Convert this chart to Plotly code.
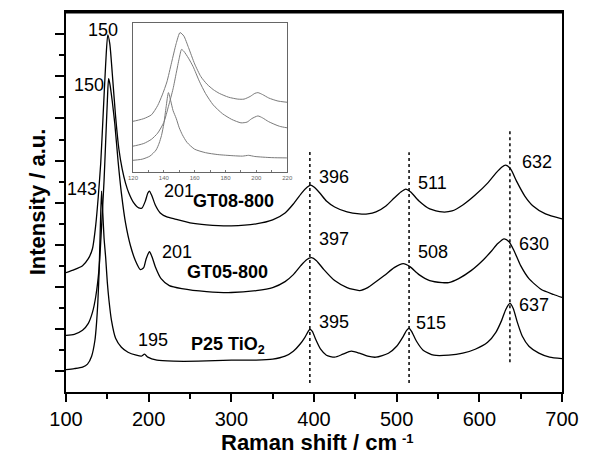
import plotly.graph_objects as go

# Raman spectra (intensity in arbitrary units, stacked with offsets)
p25_x = [100, 110, 120, 126, 131, 135, 137, 138.5, 140, 141.5, 143, 144.5, 146, 148, 150, 152, 155, 160,
         167, 175, 185, 191, 195, 199, 210, 230, 260, 300, 330, 350, 365, 375, 383, 389, 393, 395, 398,
         402, 408, 415, 425, 435, 445, 455, 465, 475, 490, 500, 508, 512, 515, 518, 524, 532, 545, 563,
         580, 595, 610, 620, 627, 632, 637, 641, 646, 652, 660, 672, 685, 700]
p25_y = [22.5, 23.5, 25, 28, 36, 52, 70, 90, 120, 165, 202, 180, 155, 135, 110, 92, 72, 54,
         45, 40, 37, 36, 38, 35, 32, 31, 31, 32, 32, 33, 36, 41, 48, 55, 61, 63, 61,
         53, 43, 37, 35, 38, 41, 39, 36, 35, 39, 46, 56, 62, 64, 61, 51, 42, 37, 37,
         39, 43, 50, 60, 72, 83, 89, 84, 70, 56, 46, 39, 35, 33.5]

gt05_x = [100, 110, 120, 127, 132, 136, 140, 143, 146, 148, 150, 151.5, 153, 156, 159, 163, 167, 172,
          178, 184, 190, 194, 197, 201, 204, 208, 215, 225, 240, 270, 300, 330, 350, 365, 375, 384,
          391, 397, 403, 412, 425, 440, 455, 465, 472, 485, 497, 508, 516, 527, 540, 555, 563, 575,
          590, 605, 615, 622, 630, 636, 642, 650, 660, 675, 690, 700]
gt05_y = [57, 58, 62, 69, 80, 96, 124, 166, 212, 252, 292, 315, 310, 292, 270, 232, 200, 170,
          147, 132, 123, 125, 134, 141, 136, 126, 114, 107, 104, 101, 100, 102, 105, 111, 118, 127,
          133, 135, 132, 123, 112, 105, 102, 105, 109, 117, 125, 129, 126, 118, 112, 110, 110, 114,
          122, 133, 142, 149, 154, 151, 142, 127, 114, 103, 98, 95]

gt08_x = [100, 110, 120, 127, 132, 136, 139, 142, 145, 148, 150.5, 153, 156, 160, 164, 168, 172, 176,
          182, 188, 192, 196, 199, 201, 204, 208, 214, 222, 231, 250, 270, 300, 330, 350, 365, 375,
          385, 392, 396, 400, 407, 415, 425, 440, 455, 465, 475, 487, 497, 505, 511, 517, 527, 540,
          555, 567, 580, 595, 610, 620, 627, 632, 638, 645, 655, 665, 680, 700]
gt08_y = [120, 123, 127, 134, 144, 168, 196, 230, 280, 330, 359, 350, 320, 277, 244, 224, 210, 200,
          190, 185, 185, 192, 200, 202, 197, 188, 180, 176, 174, 170, 168, 167, 169, 173, 180, 189,
          200, 206, 208, 206, 200, 192, 186, 181, 179, 179, 181, 187, 195, 201, 204, 201, 192, 184,
          181, 182, 188, 198, 210, 220, 226, 228, 224, 212, 197, 187, 179, 174]

# Reference lines at the P25 band positions
ref_x = [395, 515, 637]
ref_top = [242, 241, 262]
ref_bottom = [9, 9, 30]

# Band labels: (x, y, text)
peak_labels = [
    (144.2, 363.7, "150"), (127.6, 308.7, "150"), (119.3, 203.7, "143"),
    (237.2, 202, "201"), (234.0, 140.3, "201"), (205.5, 52, "195"),
    (423.7, 216, "396"), (423.7, 154, "397"), (423.7, 70, "395"),
    (543.5, 210.3, "511"), (543.5, 140.3, "508"), (541.5, 69.3, "515"),
    (670.0, 231, "632"), (666.0, 148.7, "630"), (666.0, 87, "637"),
]
sample_labels = [
    (302.4, 192, "GT08-800"), (295.7, 120.3, "GT05-800"), (295.7, 47, "P25 TiO<sub>2</sub>"),
]

FONT = "Liberation Sans, Arial, sans-serif"
fig = go.Figure()

for xs, ys in [(gt08_x, gt08_y), (gt05_x, gt05_y), (p25_x, p25_y)]:
    fig.add_trace(go.Scatter(x=xs, y=ys, mode="lines",
                             line=dict(color="black", width=1.3, shape="spline", smoothing=0.6),
                             xaxis="x", yaxis="y", hoverinfo="skip"))
    fig.add_trace(go.Scatter(x=xs, y=ys, mode="lines",
                             line=dict(color="#7a7a7a", width=1, shape="spline", smoothing=0.6),
                             xaxis="x2", yaxis="y2", hoverinfo="skip"))

for xv, yt, yb in zip(ref_x, ref_top, ref_bottom):
    fig.add_trace(go.Scatter(x=[xv, xv], y=[yb, yt], mode="lines",
                             line=dict(color="black", width=1.5, dash="dot"),
                             xaxis="x", yaxis="y", hoverinfo="skip"))

annotations = []
for x, y, t in peak_labels:
    annotations.append(dict(x=x, y=y, xref="x", yref="y", text=t, showarrow=False,
                            font=dict(family=FONT, size=18, color="black")))
for x, y, t in sample_labels:
    annotations.append(dict(x=x, y=y, xref="x", yref="y", text="<b>" + t + "</b>", showarrow=False,
                            font=dict(family=FONT, size=18, color="black")))
# x-axis title with its superscript unit exponent
annotations.append(dict(x=0.490, y=-0.172, xref="paper", yref="paper",
                        text="<b>Raman shift / cm</b>", showarrow=False,
                        font=dict(family=FONT, size=22, color="black")))
annotations.append(dict(x=0.705, y=-0.148, xref="paper", yref="paper",
                        text="<b>-1</b>", showarrow=False,
                        font=dict(family=FONT, size=13, color="black")))
annotations.append(dict(x=-0.087, y=0.5, xref="paper", yref="paper", textangle=-90,
                        text="<b>Intensity / a.u.</b>", showarrow=False,
                        font=dict(family=FONT, size=22, color="black")))

fig.update_layout(
    width=589, height=466,
    margin=dict(l=66, r=17, t=10, b=74),
    paper_bgcolor="white", plot_bgcolor="white",
    showlegend=False,
    annotations=annotations,
    xaxis=dict(range=[100, 700], tickvals=[100, 200, 300, 400, 500, 600, 700],
               ticks="outside", ticklen=8, tickwidth=1.5, tickcolor="black",
               minor=dict(tickvals=[150, 250, 350, 450, 550, 650], ticks="outside",
                          ticklen=5, tickwidth=1.5, tickcolor="black"),
               showline=True, linewidth=2, linecolor="black", mirror=True,
               showgrid=False, zeroline=False,
               tickfont=dict(family=FONT, size=20, color="black")),
    yaxis=dict(range=[0, 382], tickvals=[21.15 * k for k in range(1, 18, 2)],
               ticks="outside", ticklen=9, tickwidth=1.5, tickcolor="black",
               minor=dict(tickvals=[21.15 * k for k in range(2, 18, 2)], ticks="outside",
                          ticklen=5, tickwidth=1.5, tickcolor="black"),
               showticklabels=False,
               showline=True, linewidth=2, linecolor="black", mirror=True,
               showgrid=False, zeroline=False),
    xaxis2=dict(domain=[0.135, 0.446], anchor="y2", range=[120, 220],
                tickvals=[120, 140, 160, 180, 200, 220], ticks="inside", ticklen=2,
                tickcolor="#777", minor=dict(tickvals=[130, 150, 170, 190, 210], ticks="inside",
                                             ticklen=2, tickcolor="#777"),
                showline=True, linewidth=1, linecolor="#666", mirror=True,
                showgrid=False, zeroline=False,
                tickfont=dict(family=FONT, size=6, color="#666")),
    yaxis2=dict(domain=[0.5785, 0.971], anchor="x2", range=[-6, 384],
                showticklabels=False, ticks="",
                showline=True, linewidth=1, linecolor="#666", mirror=True,
                showgrid=False, zeroline=False),
    shapes=[dict(type="line", xref="paper", yref="paper", x0=-0.002, x1=1.002, y0=1, y1=1,
                 line=dict(color="black", width=3))],
)

fig.write_html("out.html")
